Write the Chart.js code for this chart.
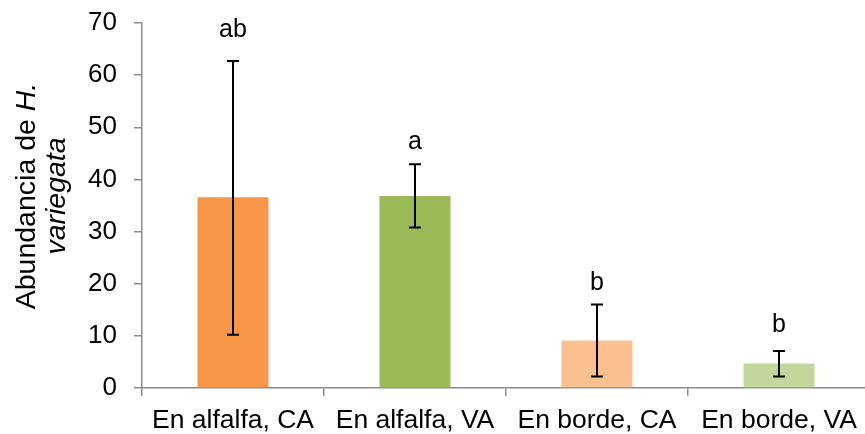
<!DOCTYPE html>
<html>
<head>
<meta charset="utf-8">
<script src="https://cdn.jsdelivr.net/npm/chart.js@4/dist/chart.umd.min.js"></script>
<style>
  html, body { margin: 0; padding: 0; background: #fff; overflow: hidden; }
  #wrap { width: 880px; height: 434px; }
</style>
</head>
<body>
<div id="wrap"><canvas id="abundChart" width="880" height="434"></canvas></div>
<script>
const categories = ["En alfalfa, CA", "En alfalfa, VA", "En borde, CA", "En borde, VA"];
const means = [36.6, 36.8, 9.1, 4.7];
const errLow = [10.2, 30.8, 2.2, 2.2];
const errHigh = [62.7, 42.9, 16.0, 7.1];
const letters = ["ab", "a", "b", "b"];
const letterAt = [68.6, 47.1, 20.1, 12.0];
const barColors = ["#F79646", "#9BBB59", "#FAC090", "#C3D69B"];
const yTicks = [0, 10, 20, 30, 40, 50, 60, 70];

const FONT = "'Liberation Sans', Arial, sans-serif";
const axisGray = "#8c8c8c";

// error bars + significance letters
const errorBars = {
  id: "errorBars",
  afterDatasetsDraw(chart) {
    const ctx = chart.ctx;
    const y = chart.scales.y;
    const meta = chart.getDatasetMeta(0);
    ctx.save();
    ctx.strokeStyle = "#000";
    ctx.lineWidth = 2;
    meta.data.forEach((bar, i) => {
      const x = bar.x;
      const top = y.getPixelForValue(errHigh[i]);
      const bot = y.getPixelForValue(errLow[i]);
      ctx.beginPath();
      ctx.moveTo(x, top); ctx.lineTo(x, bot);
      ctx.moveTo(x - 6, top); ctx.lineTo(x + 6, top);
      ctx.moveTo(x - 6, bot); ctx.lineTo(x + 6, bot);
      ctx.stroke();

      ctx.fillStyle = "#000";
      ctx.font = "25px " + FONT;
      ctx.textAlign = "center";
      ctx.textBaseline = "middle";
      ctx.fillText(letters[i], x, y.getPixelForValue(letterAt[i]));
    });
    ctx.restore();
  }
};

// y title with italic species name
const yTitle = {
  id: "yTitle",
  afterDraw(chart) {
    const ctx = chart.ctx;
    const center = 196;
    const size = 28.5;
    const normal = size + "px " + FONT;
    const italic = "italic " + size + "px " + FONT;
    ctx.save();
    ctx.rotate(-Math.PI / 2);
    ctx.fillStyle = "#000";
    ctx.textAlign = "left";
    ctx.textBaseline = "alphabetic";

    ctx.font = normal;
    const p1 = "Abundancia de ";
    const w1 = ctx.measureText(p1).width;
    ctx.font = italic;
    const w2 = ctx.measureText("H.").width;
    let u = -center - (w1 + w2) / 2;
    ctx.font = normal;
    ctx.fillText(p1, u, 35);
    ctx.font = italic;
    ctx.fillText("H.", u + w1, 35);

    const w3 = ctx.measureText("variegata").width;
    ctx.fillText("variegata", -center - w3 / 2, 65);
    ctx.restore();
  }
};

new Chart(document.getElementById("abundChart").getContext("2d"), {
  type: "bar",
  data: {
    labels: categories,
    datasets: [{
      data: means,
      backgroundColor: barColors,
      borderWidth: 0,
      barPercentage: 0.39,
      categoryPercentage: 1
    }]
  },
  options: {
    responsive: false,
    animation: false,
    layout: { padding: { left: 0, top: 23, right: 10, bottom: 0 } },
    plugins: {
      legend: { display: false },
      tooltip: { enabled: false }
    },
    scales: {
      x: {
        afterFit: s => { s.height = 46; s.paddingLeft = 0; s.paddingRight = 0; },
        grid: {
          offset: true,
          drawOnChartArea: false,
          drawTicks: true,
          tickLength: 8,
          color: axisGray,
          lineWidth: 1.5
        },
        border: { color: axisGray, width: 1.5 },
        ticks: {
          color: "#000",
          font: { family: FONT, size: 26.5 },
          padding: 9,
          maxRotation: 0,
          autoSkip: false
        }
      },
      y: {
        min: 0,
        max: 70,
        afterFit: s => { s.width = 142; s.paddingTop = 0; s.paddingBottom = 0; },
        afterBuildTicks: s => { s.ticks = yTicks.map(v => ({ value: v })); },
        grid: {
          drawOnChartArea: false,
          drawTicks: true,
          tickLength: 8,
          color: axisGray,
          lineWidth: 1.5
        },
        border: { color: axisGray, width: 1.5 },
        ticks: {
          color: "#000",
          font: { family: FONT, size: 26 },
          padding: 17
        }
      }
    }
  },
  plugins: [errorBars, yTitle]
});
</script>
</body>
</html>
